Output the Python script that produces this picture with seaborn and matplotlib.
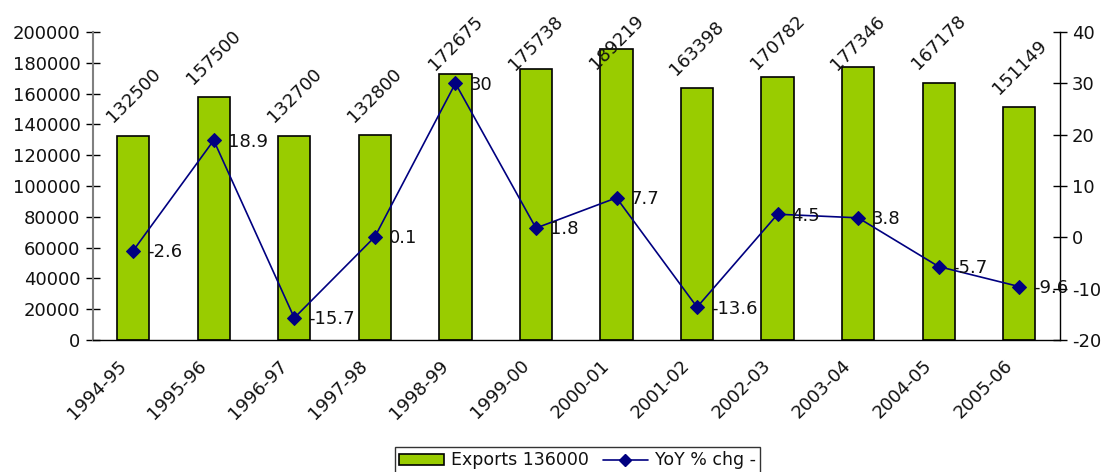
import matplotlib
matplotlib.use("Agg")
import matplotlib.pyplot as plt
import seaborn as sns
import pandas as pd
import numpy as np

years = ["1994-95", "1995-96", "1996-97", "1997-98", "1998-99", "1999-00",
         "2000-01", "2001-02", "2002-03", "2003-04", "2004-05", "2005-06"]
exports = [132500, 157500, 132700, 132800, 172675, 175738,
           189219, 163398, 170782, 177346, 167178, 151149]
yoy = [-2.6, 18.9, -15.7, 0.1, 30, 1.8, 7.7, -13.6, 4.5, 3.8, -5.7, -9.6]
yoy_labels = ["-2.6", "18.9", "-15.7", "0.1", "30", "1.8", "7.7", "-13.6", "4.5", "3.8", "-5.7", "-9.6"]

sns.set_theme(style="white")
plt.rcParams['font.family'] = ['DejaVu Sans']
FS = 13
FS_LEG = 12.5
TC = "#111111"

df = pd.DataFrame({"year": years, "exports": exports, "yoy": yoy})

fig = plt.figure(figsize=(11.06, 4.72), dpi=100)
ax = fig.add_axes([0.084, 0.2797, 0.874, 0.6525])

sns.barplot(data=df, x="year", y="exports", color="#99CC00", saturation=1,
            edgecolor="black", linewidth=1.2, width=0.4, ax=ax, zorder=2)
ax.set_xlim(-0.5, len(years) - 0.5)
ax.set_ylim(0, 200000)
ax.set_yticks(np.arange(0, 200001, 20000))
ax.set_yticklabels([str(v) for v in range(0, 200001, 20000)], fontsize=FS, color=TC)
ax.set_xlabel("")
ax.set_ylabel("")
# category labels (rotated, anchored slightly left of each category centre)
ax.set_xticks(np.arange(len(years)) - 0.2)
ax.set_xticklabels(years, rotation=45, ha="right", rotation_mode="anchor", fontsize=FS, color=TC)
ax.tick_params(axis="x", which="major", length=0, pad=12)
ax.set_xticks(np.arange(-0.5, len(years), 1.0), minor=True)
ax.tick_params(axis="x", which="minor", length=5, direction="out", color="black", width=1)
ax.tick_params(axis="y", length=10, direction="inout", color="black", width=1, left=True, pad=4)
for s in ["top", "right"]:
    ax.spines[s].set_visible(False)
ax.spines["left"].set_color("#808080")
ax.spines["left"].set_linewidth(1.5)
ax.spines["bottom"].set_color("black")
ax.spines["bottom"].set_linewidth(1)

bar_labels = []
for i, v in enumerate(exports):
    t = ax.annotate(str(v), (i, v), xytext=(0, 7), textcoords="offset points",
                    rotation=45, ha="center", va="bottom", fontsize=FS, color=TC,
                    annotation_clip=False, zorder=5)
    bar_labels.append(t)

ax2 = ax.twinx()
sns.lineplot(data=df, x="year", y="yoy", ax=ax2, color="#000080", marker="D",
             markersize=7, linewidth=1.2, markeredgecolor="#000080", sort=False)
ax2.set_ylim(-20, 40)
ax2.set_yticks(np.arange(-20, 41, 10))
ax2.set_yticklabels([str(v) for v in range(-20, 41, 10)], fontsize=FS, color=TC)
ax2.set_ylabel("")
ax2.tick_params(axis="y", length=10, direction="inout", color="black", width=1, right=True, pad=4)
for s in ["top", "left", "bottom"]:
    ax2.spines[s].set_visible(False)
ax2.spines["right"].set_visible(True)
ax2.spines["right"].set_color("black")
ax2.spines["right"].set_linewidth(1)
ax2.set_xlim(-0.5, len(years) - 0.5)

for i, (v, lab) in enumerate(zip(yoy, yoy_labels)):
    ax2.annotate(lab, (i, v), xytext=(10, -1), textcoords="offset points",
                 ha="left", va="center", fontsize=FS, color=TC)

from matplotlib.patches import Patch
from matplotlib.lines import Line2D
handles = [Patch(facecolor="#99CC00", edgecolor="black", linewidth=1.2),
           Line2D([0], [0], color="#000080", marker="D", markersize=6, linewidth=1.2)]
leg = fig.legend(handles, ["Exports 136000", "YoY % chg -"], loc="upper center",
                 bbox_to_anchor=(0.522, 0.053), ncol=2, fontsize=FS_LEG, frameon=True,
                 fancybox=False, edgecolor="black", handlelength=2.6, handleheight=0.6,
                 handletextpad=0.4, columnspacing=0.8, borderpad=0.25, borderaxespad=0)
leg.get_frame().set_linewidth(1)
for txt in leg.get_texts():
    txt.set_color(TC)

# keep bar labels inside the chart area (clamp to top, as the original chart does)
fig.canvas.draw()
renderer = fig.canvas.get_renderer()
H = fig.bbox.height
top_limit = H - 12
for t in bar_labels:
    bb = t.get_window_extent(renderer)
    if bb.y1 > top_limit:
        dy_px = bb.y1 - top_limit
        t.xyann = (t.xyann[0], t.xyann[1] - dy_px * 72 / fig.dpi)

fig.savefig("out.png", dpi=100)
